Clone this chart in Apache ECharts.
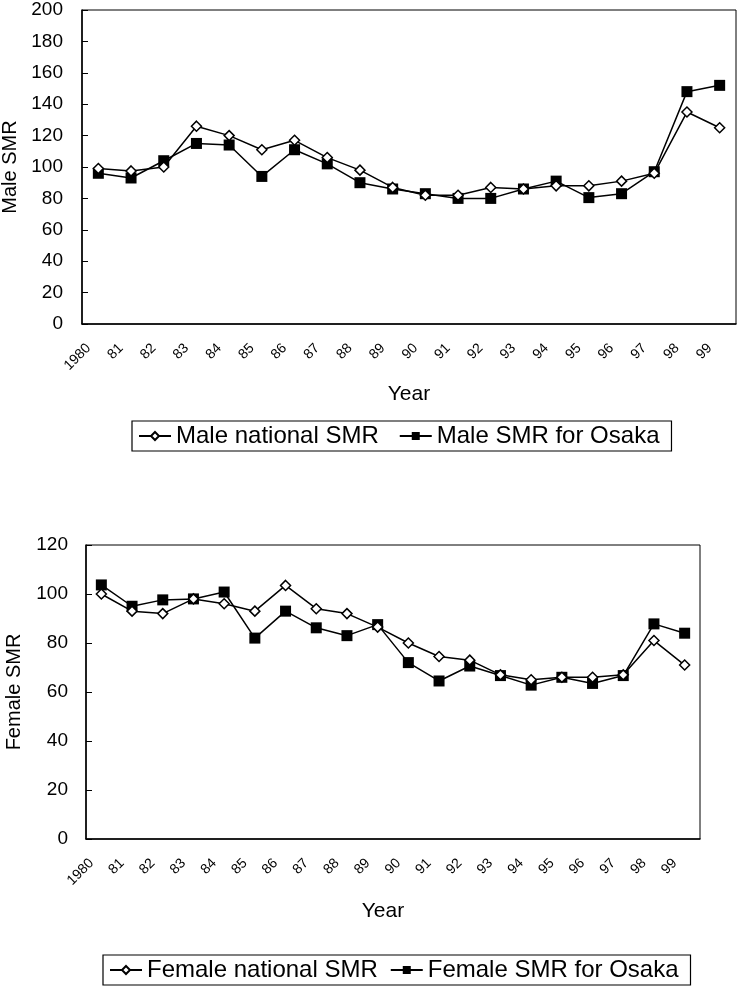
<!DOCTYPE html>
<html>
<head>
<meta charset="utf-8">
<script src="https://cdn.jsdelivr.net/npm/echarts@6/dist/echarts.min.js"></script>
<style>
html,body{margin:0;padding:0;background:#fff;}
#chart{width:739px;height:992px;}
</style>
</head>
<body>
<div id="chart"></div>
<script>
const years = ['1980','81','82','83','84','85','86','87','88','89','90','91','92','93','94','95','96','97','98','99'];
const maleNational = [99, 97.5, 100, 126, 120, 111, 117, 106, 98, 87, 82, 82, 87, 86, 88, 88, 91, 96, 135, 125];
const maleOsaka    = [96, 93, 104, 115, 114, 94, 111, 102, 90, 86, 83, 80, 80, 86, 91, 80.5, 83, 97, 148, 152];
const femaleNational = [100, 93, 92, 98, 96, 93, 103.5, 94, 92, 86.5, 80, 74.5, 73, 67, 65, 66, 66, 67, 81, 71];
const femaleOsaka    = [103.7, 95, 97.6, 98, 100.8, 82, 93, 86.2, 83, 87.5, 72, 64.5, 70.6, 66.7, 62.8, 66, 63.5, 66.7, 87.8, 84];
const maleTicks = {min: 0, max: 200, interval: 20};
const femaleTicks = {min: 0, max: 120, interval: 20};

const FONT = 'Liberation Sans, Arial, sans-serif';
const chart = echarts.init(document.getElementById('chart'), null, {renderer: 'canvas'});

function xAxis(gridIndex, gap, namePad) {
  return {
    type: 'category', gridIndex, data: years, boundaryGap: true,
    name: 'Year', nameLocation: 'middle', nameGap: gap,
    nameTextStyle: {fontFamily: FONT, fontSize: 21, color: '#000', padding: namePad},
    axisLine: {lineStyle: {color: '#000', width: 1.5}},
    axisTick: {inside: true, length: 5, lineStyle: {color: '#000'}},
    axisLabel: {interval: 0, rotate: 45, fontFamily: FONT, fontSize: 14, color: '#000', margin: 12, padding: [0, 14, 0, 0]},
    splitLine: {show: false}
  };
}
function yAxis(gridIndex, name, t, gap, margin) {
  return {
    type: 'value', gridIndex, min: t.min, max: t.max, interval: t.interval,
    name, nameLocation: 'middle', nameGap: gap,
    nameTextStyle: {fontFamily: FONT, fontSize: 20, color: '#000'},
    axisLine: {show: true, lineStyle: {color: '#000', width: 1.5}},
    axisTick: {show: true, inside: true, length: 6, lineStyle: {color: '#000'}},
    axisLabel: {fontFamily: FONT, fontSize: 19, color: '#000', margin},
    splitLine: {show: false}
  };
}
function series(name, data, idx, national) {
  return {
    name, type: 'line', data, xAxisIndex: idx, yAxisIndex: idx,
    symbol: national ? 'diamond' : 'rect',
    symbolSize: national ? 10 : 11,
    showAllSymbol: true,
    lineStyle: {color: '#000', width: 1.5},
    itemStyle: national ? {color: '#fff', borderColor: '#000', borderWidth: 1.5} : {color: '#000', borderColor: '#000', borderWidth: 0},
    emphasis: {disabled: true},
    z: national ? 3 : 2
  };
}
function legend(names, left, top, gap) {
  return {
    data: names, left, top, orient: 'horizontal',
    borderColor: '#000', borderWidth: 1.2, padding: [3, 12, 3, 6],
    itemWidth: 32, itemHeight: 10, itemGap: gap,
    textStyle: {fontFamily: FONT, fontSize: 24, color: '#000'},
    selectedMode: false
  };
}

chart.setOption({
  animation: false,
  backgroundColor: '#fff',
  grid: [
    {left: 82, top: 10, width: 654, height: 314, containLabel: false, outerBoundsMode: 'none', show: true, borderColor: '#000', borderWidth: 1, backgroundColor: 'transparent'},
    {left: 86, top: 545, width: 614, height: 294, containLabel: false, outerBoundsMode: 'none', show: true, borderColor: '#000', borderWidth: 1, backgroundColor: 'transparent'}
  ],
  xAxis: [xAxis(0, 60, [0, 0, 0, 0]), xAxis(1, 62, [0, 20, 0, 0])],
  yAxis: [yAxis(0, 'Male SMR', maleTicks, 62, 19), yAxis(1, 'Female SMR', femaleTicks, 62, 18)],
  legend: [
    legend(['Male national SMR', 'Male SMR for Osaka'], 132, 421, 20),
    legend(['Female national SMR', 'Female SMR for Osaka'], 103, 955, 12)
  ],
  series: [
    series('Male national SMR', maleNational, 0, true),
    series('Male SMR for Osaka', maleOsaka, 0, false),
    series('Female national SMR', femaleNational, 1, true),
    series('Female SMR for Osaka', femaleOsaka, 1, false)
  ]
});
</script>
</body>
</html>
